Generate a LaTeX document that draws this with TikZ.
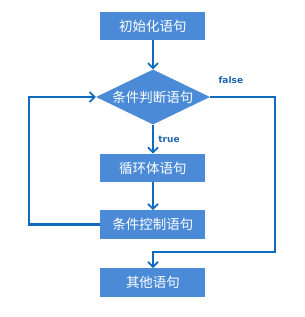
\documentclass[tikz,border=0pt]{standalone}
\usepackage{fontspec}
\setmainfont{Noto Sans CJK SC}
\newfontfamily\labelfont{DejaVu Sans}
\usepackage{tikz}
\usetikzlibrary{positioning, arrows.meta, shapes.geometric}
\definecolor{boxblue}{HTML}{4A8AD6}
\definecolor{lineblue}{HTML}{0F6BBF}
\definecolor{labelblue}{HTML}{1D66B0}

\begin{document}
\begin{tikzpicture}[x=1pt, y=-1pt,
  stepbox/.style={fill=boxblue, text=white, minimum width=105pt, minimum height=28.5pt, inner sep=0pt, font=\fontsize{13.5}{15}\selectfont},
  decision/.style={stepbox, diamond, aspect=2.1, minimum width=114pt, minimum height=55pt},
  flow/.style={lineblue, line width=2.1pt, -{Straight Barb[length=5pt, width=10pt, line width=1.8pt]}},
  branch/.style={text=labelblue, font=\labelfont\bfseries\fontsize{9}{10}\selectfont}]
  \useasboundingbox (0,0) rectangle (305,317);
  % steps
  \node[stepbox] (init) at (153,26) {初始化语句};
  \node[decision] (cond) at (153,97) {条件判断语句};
  \node[stepbox] (body) at (153,168) {循环体语句};
  \node[stepbox] (update) at (153,224.5) {条件控制语句};
  \node[stepbox] (other) at (153,282.5) {其他语句};
  % loop corners
  \coordinate (loopleft) at (29,160);
  \coordinate (falseright) at (275,252);
  % flow
  \draw[flow] (init) -- (cond);
  \draw[flow] (cond) -- node[branch, right=1pt] {true} (body);
  \draw[flow] (body) -- (update);
  \draw[flow] (update.west) -- (update.west -| loopleft) |- (cond.west);
  \draw[flow] (cond.east) node[branch, anchor=south west, xshift=4pt, yshift=9pt] {false}
    -| (falseright) -| (other.north);
\end{tikzpicture}
\end{document}
